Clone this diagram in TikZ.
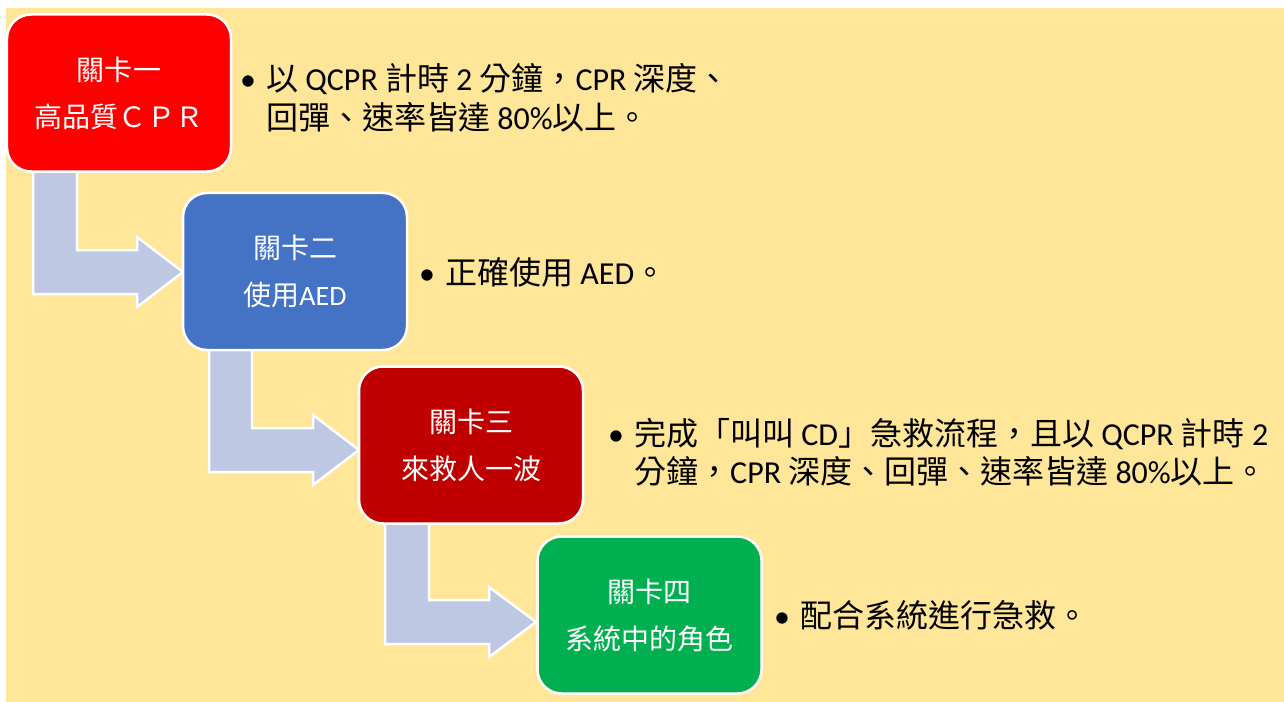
\documentclass[tikz,border=0pt]{standalone}
\usepackage{fontspec}
\setmainfont{Carlito}
\newfontfamily\cjk{Noto Sans CJK TC}
\newfontfamily\lat{Carlito}
\definecolor{bgyellow}{HTML}{FFE699}
\definecolor{arrowfill}{HTML}{BFC8E3}
\definecolor{boxred}{HTML}{FF0000}
\definecolor{boxblue}{HTML}{4472C4}
\definecolor{boxdark}{HTML}{C00000}
\definecolor{boxgreen}{HTML}{00B050}
\tikzset{
  stagebox/.style={rounded corners=24bp, draw=white, line width=2.5bp,
    minimum width=224bp, minimum height=157bp, inner sep=0pt,
    text=white, align=center, font=\cjk\fontsize{28bp}{47bp}\selectfont},
  bentarrow/.style={fill=arrowfill, draw=white, line width=2.5bp, line join=miter},
  bullettext/.style={anchor=base west, inner sep=0pt, text=black,
    font=\cjk\fontsize{32bp}{38.5bp}\selectfont}
}
\newcommand{\bul}{\makebox[26bp][l]{\lat\textbullet}}
\begin{document}
\begin{tikzpicture}[x=1bp,y=-1bp]
\useasboundingbox (0,0) rectangle (1284,702);
\fill[white] (0,0) rectangle (1284,702);
\fill[bgyellow] (6,8) rectangle (1284,702);
% bent arrows
\draw[bentarrow] (33,168) -- (77,168) -- (77,250) -- (137,250) -- (137,237) -- (183,272)
  -- (137,307) -- (137,294) -- (33,294) -- cycle;
\draw[bentarrow] (209,345) -- (252,345) -- (252,428) -- (313,428) -- (313,415) -- (359,450)
  -- (313,485) -- (313,472) -- (209,472) -- cycle;
\draw[bentarrow] (385,518) -- (429,518) -- (429,600) -- (489,600) -- (489,587) -- (536,622)
  -- (489,657) -- (489,644) -- (385,644) -- cycle;
% boxes
\node[stagebox, fill=boxred] (b1) at (119,93) {關卡一\\高品質ＣＰＲ};
\node[stagebox, fill=boxblue] (b2) at (295,271.5) {關卡二\\使用{\lat AED}};
\node[stagebox, fill=boxdark] (b3) at (471,445) {關卡三\\來救人一波};
\node[stagebox, fill=boxgreen] (b4) at (649.5,615) {關卡四\\系統中的角色};
% bullet texts
\node[bullettext] (t1) at (240,91) {\begin{tabular}[t]{@{}l@{}l@{}}
\bul & 以 {\lat QCPR} 計時 {\lat 2} 分鐘，{\lat CPR} 深度、\\
 & 回彈、速率皆達 {\lat 80\%}以上。\end{tabular}};
\node[bullettext] (t2) at (419,284) {\begin{tabular}[t]{@{}l@{}l@{}}
\bul & 正確使用 {\lat AED}。\end{tabular}};
\node[bullettext] (t3) at (608,445) {\begin{tabular}[t]{@{}l@{}l@{}}
\bul & 完成「叫叫 {\lat CD}」急救流程，且以 {\lat QCPR} 計時 {\lat 2}\\
 & 分鐘，{\lat CPR} 深度、回彈、速率皆達 {\lat 80\%}以上。\end{tabular}};
\node[bullettext] (t4) at (774,627) {\begin{tabular}[t]{@{}l@{}l@{}}
\bul & 配合系統進行急救。\end{tabular}};
\end{tikzpicture}
\end{document}
